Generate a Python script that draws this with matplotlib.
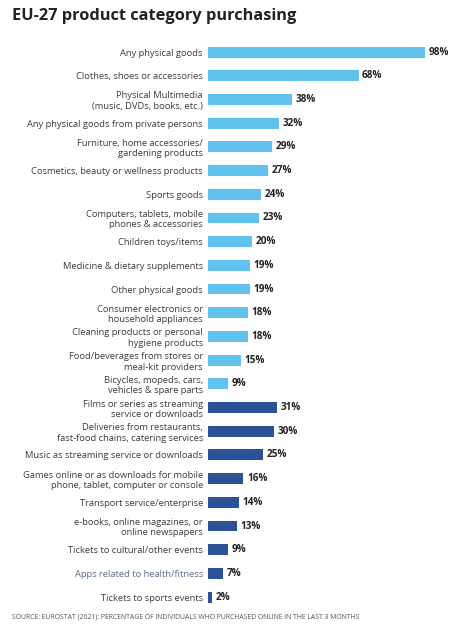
import matplotlib.pyplot as plt

# categories, top to bottom
labels = [
    'Any physical goods',
    'Clothes, shoes or accessories',
    'Physical Multimedia\n(music, DVDs, books, etc.)',
    'Any physical goods from private persons',
    'Furniture, home accessories/\ngardening products',
    'Cosmetics, beauty or wellness products',
    'Sports goods',
    'Computers, tablets, mobile\nphones & accessories',
    'Children toys/items',
    'Medicine & dietary supplements',
    'Other physical goods',
    'Consumer electronics or\nhousehold appliances',
    'Cleaning products or personal\nhygiene products',
    'Food/beverages from stores or\nmeal-kit providers',
    'Bicycles, mopeds, cars,\nvehicles & spare parts',
    'Films or series as streaming\nservice or downloads',
    'Deliveries from restaurants,\nfast-food chains, catering services',
    'Music as streaming service or downloads',
    'Games online or as downloads for mobile\nphone, tablet, computer or console',
    'Transport service/enterprise',
    'e-books, online magazines, or\nonline newspapers',
    'Tickets to cultural/other events',
    'Apps related to health/fitness',
    'Tickets to sports events',
]
values = [98, 68, 38, 32, 29, 27, 24, 23, 20, 19, 19, 18, 18, 15, 9,
          31, 30, 25, 16, 14, 13, 9, 7, 2]
groups = ['physical'] * 15 + ['services'] * 9

colors = {'physical': '#62C2EE', 'services': '#2B5296'}

plt.rcParams['font.family'] = ['Open Sans', 'DejaVu Sans']

fig = plt.figure(figsize=(4.7, 6.32), dpi=100)
ax = fig.add_axes([208 / 470, 1 - 608 / 632, 1 - 208 / 470, (608 - 40) / 632])

ypos = list(range(len(labels)))
ax.barh(ypos, values, height=0.46, color=[colors[g] for g in groups])

for y, v in zip(ypos, values):
    ax.text(v + 1.6, y, f'{v}%', va='center', ha='left',
            fontsize=7.2, fontweight='bold', color='#222222')

ax.set_xlim(0, 262 / 2.214)
ax.set_ylim(23.46, -0.51)
ax.set_yticks(ypos)
ax.set_yticklabels(labels, fontsize=6.75, color='#3C3C3C', linespacing=1.2)
ax.get_yticklabels()[22].set_color('#5A6E8C')
ax.tick_params(axis='y', length=0, pad=3.6)
ax.set_xticks([])
for s in ax.spines.values():
    s.set_visible(False)

fig.text(12 / 470, 1 - 16 / 632, 'EU-27 product category purchasing',
         fontsize=11.8, fontweight='bold', color='#222222', va='center', ha='left')
fig.text(12 / 470, 1 - 617 / 632,
         'SOURCE: EUROSTAT (2021): PERCENTAGE OF INDIVIDUALS WHO PURCHASED ONLINE IN THE LAST 3 MONTHS',
         fontsize=4.95, color='#555555', va='center', ha='left')

fig.savefig('out.png', dpi=100)
